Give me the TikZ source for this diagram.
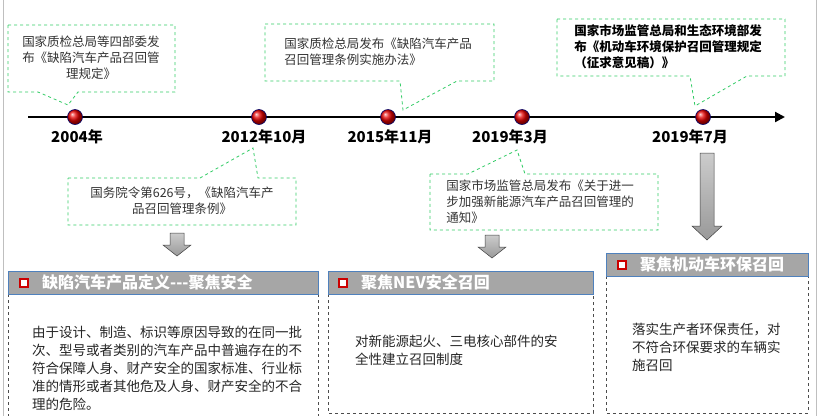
\documentclass[tikz,border=0pt]{standalone}
\usepackage{fontspec}
\setmainfont{Noto Sans CJK SC}
\usetikzlibrary{arrows.meta}
\definecolor{cg}{HTML}{33CC66}
\definecolor{hg}{HTML}{A6A6A6}
\definecolor{hb}{HTML}{4F81BD}
\tikzset{
 callout/.style={draw=cg,dashed,line width=0.8pt},
 ctext/.style={font=\fontsize{12.5}{16}\selectfont,text=black!80,align=center,inner sep=0},
 dot/.style={circle,minimum size=15pt,inner sep=0,draw=blue!40!black,line width=0.6pt,ball color=red!90!black,shading=ball},
 year/.style={font=\bfseries\fontsize{15}{17}\selectfont},
 head/.style={fill=hg,draw=hb,line width=0.8pt},
 body/.style={draw=black!70,dashed,line width=0.6pt},
 htext/.style={font=\bfseries\fontsize{16}{18}\selectfont,text=white,anchor=west,inner sep=0},
 icon/.style={draw=red!80!black,fill=white,line width=2pt,minimum size=8pt,inner sep=0},
 btext/.style={font=\fontsize{13.5}{18}\selectfont,text=black!85,align=left,anchor=west,inner sep=0},
 garrow/.style={draw=gray!50!black,line width=0.5pt,top color=gray!40,bottom color=gray!80}
}
\begin{document}
\begin{tikzpicture}[x=1pt,y=-1pt]
\useasboundingbox (0,0) rectangle (820,416);
\fill[white] (0,0) rectangle (820,416);
\draw[gray!50,line width=1pt] (3,0) -- (3,416);
\draw[gray!50,line width=1pt] (816,0) -- (816,416);
% timeline
\coordinate (ts) at (28,117);
\coordinate (te) at (785,117);
\draw[line width=2.2pt,-{Triangle[length=10pt,width=10pt]}] (ts) -- (te);
\node[dot] (d1) at (75,117) {};
\node[dot] (d2) at (259,117) {};
\node[dot] (d3) at (388,117) {};
\node[dot] (d4) at (522,117) {};
\node[dot] (d5) at (703,117) {};
\node[year] (y1) at (77,137) {2004年};
\node[year] (y2) at (264,137) {2012年10月};
\node[year] (y3) at (390,137) {2015年11月};
\node[year] (y4) at (510,137) {2019年3月};
\node[year] (y5) at (690,137) {2019年7月};
% callout 1
\draw[callout] (8,25) -- (175,25) -- (175,92) -- (78,92) -- (68,105) -- (38,92) -- (8,92) -- cycle;
\node[ctext] (c1) at (91,58) {国家质检总局等四部委发\\布《缺陷汽车产品召回管\\理规定》};
% callout 2
\draw[callout] (265,24) -- (494,24) -- (494,81) -- (457,81) -- (403,110) -- (400,81) -- (265,81) -- cycle;
\node[ctext,align=left] (c2) at (378,52) {国家质检总局发布《缺陷汽车产品\\召回管理条例实施办法》};
% callout 3
\draw[callout] (68,178) -- (200,178) -- (253,148) -- (258,178) -- (296,178) -- (296,225) -- (68,225) -- cycle;
\node[ctext] (c3) at (182,201) {国务院令第626号，《缺陷汽车产\\品召回管理条例》};
% callout 4
\draw[callout] (430,174) -- (468,174) -- (517,150) -- (525,174) -- (658,174) -- (658,230) -- (430,230) -- cycle;
\node[ctext,align=left] (c4) at (540,202) {国家市场监管总局发布《关于进一\\步加强新能源汽车产品召回管理的\\通知》};
% callout 5
\draw[callout] (557,19) -- (785,19) -- (785,76) -- (747,76) -- (695,106) -- (690,76) -- (557,76) -- cycle;
\node[ctext,align=left,font=\bfseries\fontsize{12.5}{16}\selectfont,text=black] (c5) at (668,47) {国家市场监管总局和生态环境部发\\布《机动车环境保护召回管理规定\\（征求意见稿）》};
% gray arrows
\draw[garrow] (170,233) -- (184,233) -- (184,245) -- (191,245) -- (177,256) -- (163,245) -- (170,245) -- cycle;
\draw[garrow] (485,235) -- (499,235) -- (499,247) -- (506,247) -- (492,258) -- (478,247) -- (485,247) -- cycle;
\draw[garrow] (700,153) -- (714,153) -- (714,226) -- (722,226) -- (707,240) -- (692,226) -- (700,226) -- cycle;
% box 1
\draw[body] (8,294) -- (8,416) (318,294) -- (318,416);
\draw[head] (8,271) rectangle (318,294);
\node[icon] (i1) at (24,282.5) {};
\node[htext] (h1) at (42,282.5) {缺陷汽车产品定义-{}-{}-聚焦安全};
\node[btext] (b1) at (32,368) {由于设计、制造、标识等原因导致的在同一批\\次、型号或者类别的汽车产品中普遍存在的不\\符合保障人身、财产安全的国家标准、行业标\\准的情形或者其他危及人身、财产安全的不合\\理的危险。};
% box 2
\draw[body] (328,294) -- (328,413) -- (593,413) -- (593,294);
\draw[head] (328,271) rectangle (593,294);
\node[icon] (i2) at (343,282.5) {};
\node[htext] (h2) at (361,282.5) {聚焦NEV安全召回};
\node[btext] (b2) at (355,350) {对新能源起火、三电核心部件的安\\全性建立召回制度};
% box 3
\draw[body] (606,276) -- (606,413) -- (808,413) -- (808,276);
\draw[head] (606,253) rectangle (808,276);
\node[icon] (i3) at (622,264.5) {};
\node[htext] (h3) at (640,264.5) {聚焦机动车环保召回};
\node[btext] (b3) at (632,347) {落实生产者环保责任，对\\不符合环保要求的车辆实\\施召回};
\end{tikzpicture}
\end{document}
